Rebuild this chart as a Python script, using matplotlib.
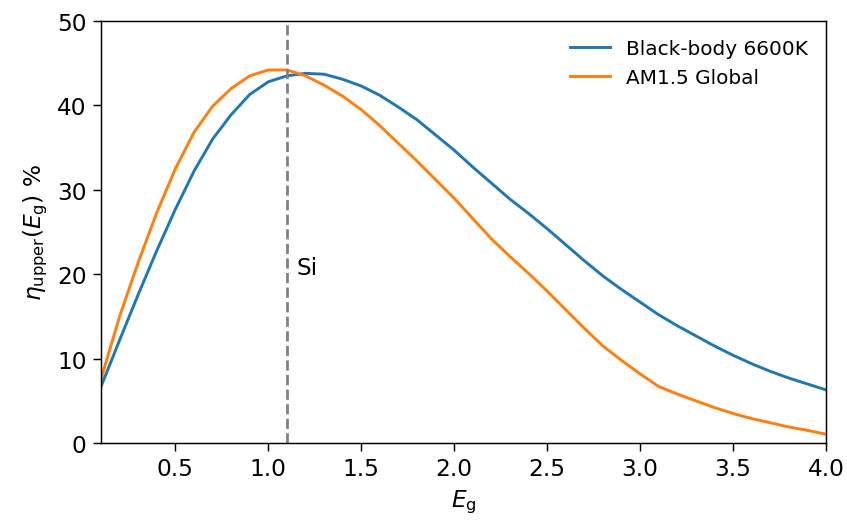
import matplotlib
matplotlib.use("Agg")
import matplotlib.pyplot as plt
import numpy as np

# band gap grid (eV)
eg = [0.1, 0.2, 0.3, 0.4, 0.5, 0.6, 0.7, 0.8, 0.9, 1.0,
      1.1, 1.2, 1.3, 1.4, 1.5, 1.6, 1.7, 1.8, 1.9, 2.0,
      2.1, 2.2, 2.3, 2.4, 2.5, 2.6, 2.7, 2.8, 2.9, 3.0,
      3.1, 3.2, 3.3, 3.4, 3.5, 3.6, 3.7, 3.8, 3.9, 4.0]

# upper efficiency limit (%) - black-body 6600K
eta_bb = [6.7, 12.2, 17.6, 22.8, 27.7, 32.2, 36.0, 38.9, 41.3, 42.8,
          43.5, 43.8, 43.7, 43.1, 42.3, 41.2, 39.8, 38.3, 36.5, 34.7,
          32.7, 30.8, 28.9, 27.2, 25.4, 23.5, 21.6, 19.8, 18.2, 16.7,
          15.2, 13.9, 12.7, 11.5, 10.4, 9.4, 8.5, 7.7, 7.0, 6.3]

# upper efficiency limit (%) - AM1.5 Global
eta_am15 = [7.6, 15.0, 21.4, 27.3, 32.5, 36.8, 39.9, 42.0, 43.5, 44.2,
            44.2, 43.5, 42.4, 41.1, 39.5, 37.6, 35.5, 33.4, 31.2, 29.0,
            26.6, 24.2, 22.1, 20.1, 18.0, 15.8, 13.6, 11.5, 9.8, 8.2,
            6.7, 5.8, 5.0, 4.2, 3.5, 2.9, 2.4, 1.9, 1.5, 1.05]

EG_SI = 1.1

plt.rcParams.update({
    "font.size": 12.7,
    "legend.fontsize": 10.9,
    "xtick.major.size": 4.4,
    "ytick.major.size": 4.4,
})

fig = plt.figure(figsize=(6.417, 3.992), dpi=132)
ax = fig.add_axes([0.1193, 0.1575, 0.8557, 0.8008])

ax.plot(eg, eta_bb, color="#1f77b4", lw=1.6, label="Black-body 6600K")
ax.plot(eg, eta_am15, color="#ff7f0e", lw=1.6, label="AM1.5 Global")
ax.axvline(EG_SI, color="gray", linestyle="--", lw=1.5)
ax.text(EG_SI + 0.05, 20, "Si")

ax.set_xlim(0.1, 4.0)
ax.set_ylim(0, 50)
ax.set_xticks(np.arange(0.5, 4.01, 0.5))
ax.set_xlabel(r"$E_{\rm g}$")
ax.set_ylabel(r"$\eta_{\rm upper}(E_{\rm g})$ %")
ax.legend(loc="upper right", frameon=False)

plt.savefig("out.png", dpi=132)
